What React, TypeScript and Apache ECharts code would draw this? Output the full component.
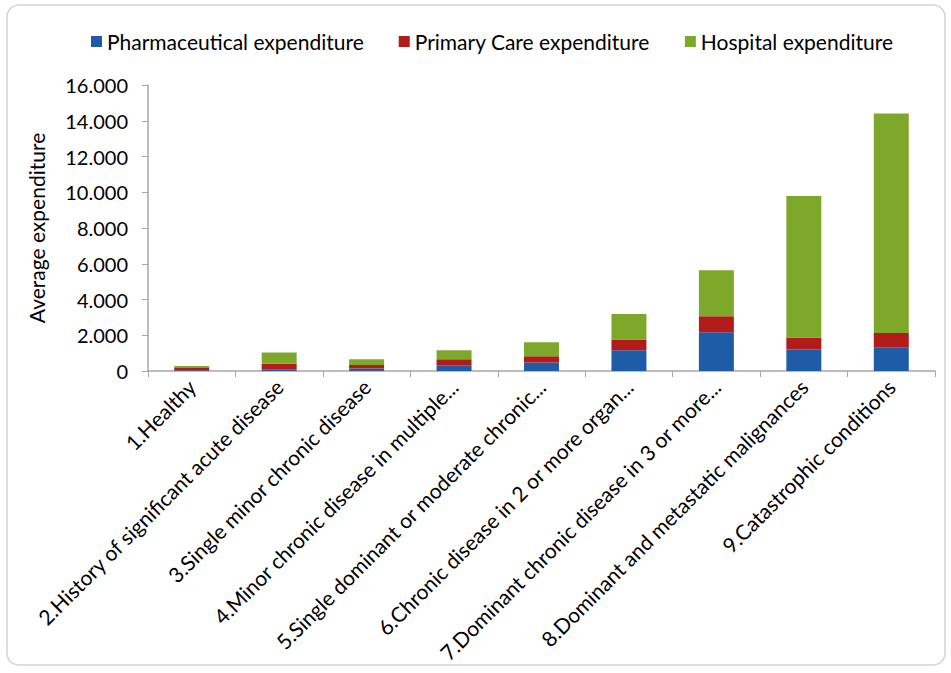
import React, { useEffect, useRef } from "react";
import * as echarts from "echarts";

const categories = [
  "1.Healthy",
  "2.History of significant acute disease",
  "3.Single minor chronic disease",
  "4.Minor chronic disease in multiple...",
  "5.Single dominant or moderate chronic...",
  "6.Chronic disease in 2 or more organ...",
  "7.Dominant chronic disease in 3 or more...",
  "8.Dominant and metastatic malignances",
  "9.Catastrophic conditions",
];
const pharmaceutical = [40, 100, 135, 320, 470, 1160, 2165, 1200, 1330];
const primaryCare = [130, 310, 200, 335, 350, 600, 895, 670, 800];
const hospital = [110, 620, 320, 505, 785, 1430, 2575, 7920, 12270];
const seriesNames = ["Pharmaceutical expenditure", "Primary Care expenditure", "Hospital expenditure"];
const colors = ["#1f5ca8", "#b31b1b", "#7ea82a"];

const FONT = "Lato";

function fmt(v: number) {
  return String(v).replace(/\B(?=(\d{3})+(?!\d))/g, ".");
}

export default function App() {
  const ref = useRef<HTMLDivElement>(null);
  useEffect(() => {
    if (!ref.current) return;
    const chart = echarts.init(ref.current, null, { renderer: "svg" });
    const data = [pharmaceutical, primaryCare, hospital];
    chart.setOption({
      animation: false,
      textStyle: { fontFamily: FONT },
      graphic: [
        {
          type: "rect",
          shape: { x: 7, y: 5, width: 938, height: 660, r: 12 },
          style: { fill: "none", stroke: "#d4d4d4", lineWidth: 1.5 },
          z: -1,
        },
      ],
      legend: {
        top: 26,
        left: 86,
        itemWidth: 11,
        itemHeight: 11,
        itemGap: 35,
        icon: "rect",
        textStyle: { fontFamily: FONT, fontSize: 21, color: "#000" },
        data: seriesNames,
      },
      grid: { left: 148, right: 16, top: 85, bottom: 302, containLabel: false },
      xAxis: {
        type: "category",
        data: categories,
        axisLine: { lineStyle: { color: "#a6a6a6", width: 1.5 } },
        axisTick: { show: true, alignWithLabel: false, length: 6, lineStyle: { color: "#a6a6a6" } },
        axisLabel: {
          rotate: 45,
          interval: 0,
          fontFamily: FONT,
          fontSize: 21,
          color: "#000",
          margin: 12,
        },
      },
      yAxis: {
        type: "value",
        min: 0,
        max: 16000,
        interval: 2000,
        name: "Average expenditure",
        nameLocation: "middle",
        nameGap: 101,
        nameRotate: 90,
        nameTextStyle: { fontFamily: FONT, fontSize: 21, color: "#000" },
        axisLine: { show: true, lineStyle: { color: "#a6a6a6", width: 1.5 } },
        axisTick: { show: true, length: 6, lineStyle: { color: "#a6a6a6" } },
        splitLine: { show: false },
        axisLabel: {
          fontFamily: FONT,
          fontSize: 20,
          color: "#000",
          margin: 20,
          formatter: (v: number) => fmt(v),
        },
      },
      series: seriesNames.map((name, i) => ({
        name,
        type: "bar",
        stack: "total",
        barWidth: "40%",
        itemStyle: { color: colors[i] },
        data: data[i],
      })),
    });
    return () => chart.dispose();
  }, []);
  return (
    <div
      ref={ref}
      style={{ position: "fixed", left: 0, top: 0, width: 951, height: 673, background: "#fff" }}
    />
  );
}
